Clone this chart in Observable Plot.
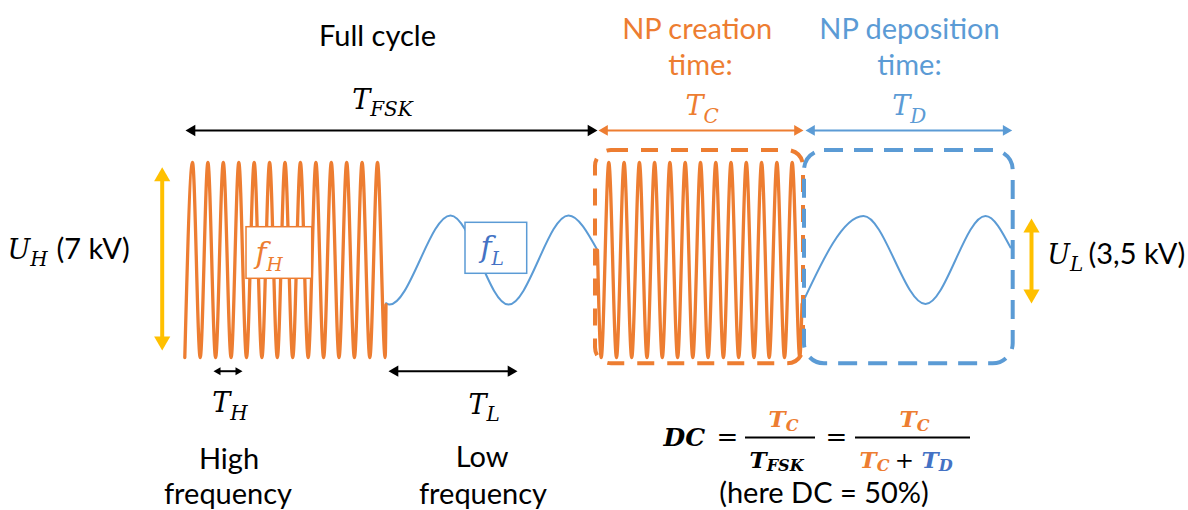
<!DOCTYPE html>
<html>
<head>
<meta charset="utf-8">
<script src="https://cdn.jsdelivr.net/npm/d3@7"></script>
<script src="https://cdn.jsdelivr.net/npm/@observablehq/plot@0.6"></script>
<style>
  html, body { margin: 0; padding: 0; background: #fff; }
  #chart svg { display: block; }
</style>
</head>
<body>
<div id="chart"></div>
<script>
// ---------------- DATA ----------------
// time in arbitrary units (0 = start of the FSK cycle), voltage in kV
// High-frequency burst #1 (extrema: troughs/peaks, then jump to low level)
const orangeA_t = [1.3, 9, 16.7, 24.4, 32.1, 39.8, 47.6, 55.3, 63, 70.7, 78.4, 86.1, 93.8, 101.5, 109.2, 116.9, 124.7, 132.4, 140.1, 147.8, 155.5, 163.2, 170.9, 178.6, 186.3, 194, 201.7, 202.5];
const orangeA_v = [-3.5, 3.5, -3.5, 3.5, -3.5, 3.5, -3.5, 3.5, -3.5, 3.5, -3.5, 3.5, -3.5, 3.5, -3.5, 3.5, -3.5, 3.5, -3.5, 3.5, -3.5, 3.5, -3.5, 3.5, -3.5, 3.5, -3.5, -1.6];
// Low-frequency part #1
const blueA_t = [202.5, 206, 267, 325, 385, 414];
const blueA_v = [-1.55, -1.6, 1.6, -1.6, 1.6, 0.35];
// High-frequency burst #2
const orangeB_t = [414, 417.7, 425.3, 433, 440.6, 448.2, 455.9, 463.5, 471.1, 478.8, 486.4, 494.1, 501.7, 509.3, 517, 524.6, 532.3, 539.9, 547.5, 555.2, 562.8, 570.5, 578.1, 585.7, 593.4, 601, 608.7, 616.3, 618.5];
const orangeB_v = [0.35, -3.5, 3.5, -3.5, 3.5, -3.5, 3.5, -3.5, 3.5, -3.5, 3.5, -3.5, 3.5, -3.5, 3.5, -3.5, 3.5, -3.5, 3.5, -3.5, 3.5, -3.5, 3.5, -3.5, 3.5, -3.5, 3.5, -3.5, -1.58];
// Low-frequency part #2
const blueB_t = [618.5, 680, 742, 802, 827];
const blueB_v = [-1.58, 1.58, -1.58, 1.58, 0.45];

// Time spans (full cycle, creation time, deposition time)
const spanNames = ["T_FSK", "T_C", "T_D"];
const spanStart = [2, 415, 622];
const spanEnd   = [414, 620, 828.7];
// Period markers
const periodNames = ["T_H", "T_L"];
const periodStart = [30, 205];
const periodEnd   = [59, 334];
// Amplitude markers (peak-to-peak voltages)
const ampNames  = ["U_H", "U_L"];
const ampLabels = ["(7 kV)", "(3,5 kV)"];
const ampTime   = [-21.3, 848];
const ampTop    = [3.33, 1.49];
const ampBottom = [-3.25, -1.56];

// Text labels
const titleLabels = ["Full cycle", "NP creation", "time:", "NP deposition", "time:"];
const freqNames = ["f_H", "f_L"];
const freqLabels = ["High", "frequency", "Low", "frequency"];
const noteLabel = "(here DC = 50%)";

// ---------------- HELPERS ----------------
const ORANGE = "#ED7D31", BLUE = "#5B9BD5", YELLOW = "#FFC000", DBLUE = "#4472C4";
const zip = (t, v) => t.map((d, i) => ({t: d, v: v[i]}));
const SANS = "Lato";
const SERIF = "DejaVu Serif";
const KV_PER_PX = 0.035897; // y scale: kV per pixel (x scale: 1 unit per pixel)

function txt(s, x, y, o = {}) {
  return Plot.text([s], {x, y, text: d => d, lineAnchor: "bottom", textAnchor: "middle",
    fontFamily: SANS, fontSize: 29, fill: "#000", ...o});
}
// math text: "A_B" becomes A with subscript B (post-processed into tspans)
function mth(s, x, y, o = {}) {
  return Plot.text([s], {x, y, text: d => d, lineAnchor: "bottom", textAnchor: "start",
    fontFamily: SERIF, fontStyle: "italic", fontSize: 27, fill: "#000", ...o});
}
function hArrow(x1, x2, y, color, sw, r) {
  const off = 1.555 * r; // px from triangle centre to tip (1 x-unit = 1 px)
  return [
    Plot.ruleY([y], {y: d => d, x1: x1 + off, x2: x2 - off, stroke: color, strokeWidth: sw}),
    Plot.dot([x1 + off], {x: d => d, y, symbol: "triangle", r, fill: color, stroke: "none", rotate: -90}),
    Plot.dot([x2 - off], {x: d => d, y, symbol: "triangle", r, fill: color, stroke: "none", rotate: 90})
  ];
}
function vArrow(x, y1, y2, color, sw, r) {
  const off = 1.555 * r * KV_PER_PX;
  return [
    Plot.ruleX([x], {x: d => d, y1: y2 + off, y2: y1 - off, stroke: color, strokeWidth: sw}),
    Plot.dot([x], {x: d => d, y: y1 - off, symbol: "triangle", r, fill: color, stroke: "none", rotate: 0}),
    Plot.dot([x], {x: d => d, y: y2 + off, symbol: "triangle", r, fill: color, stroke: "none", rotate: 180})
  ];
}

const topY = 4.649;   // level of the span arrows
const perY = -3.992;  // level of the period arrows
const BOLD = {fontWeight: "bold", fontSize: 23};
const denY = -7.45;   // denominators baseline
const numY = -6.002;  // numerators baseline

const chart = Plot.plot({
  width: 1188,
  height: 510,
  margin: 0,
  x: {domain: [-183, 1005], axis: null},
  y: {domain: [-8.992, 9.315], axis: null},
  style: {background: "#fff", overflow: "visible"},
  marks: [
    // waveform
    Plot.line(zip(blueA_t, blueA_v), {x: "t", y: "v", stroke: BLUE, strokeWidth: 2, curve: "monotone-x"}),
    Plot.line(zip(blueB_t, blueB_v), {x: "t", y: "v", stroke: BLUE, strokeWidth: 2, curve: "monotone-x"}),
    Plot.line(zip(orangeA_t, orangeA_v), {x: "t", y: "v", stroke: ORANGE, strokeWidth: 3.3, curve: "monotone-x"}),
    Plot.line(zip(orangeB_t, orangeB_v), {x: "t", y: "v", stroke: ORANGE, strokeWidth: 3.3, curve: "monotone-x"}),

    // dashed rounded boxes around creation / deposition windows
    Plot.rect([0], {x1: spanStart[1], x2: spanEnd[1], y1: -3.726, y2: 3.931, insetLeft: -3,
      rx: 16, ry: 16, fill: "none", stroke: ORANGE, strokeWidth: 4, strokeDasharray: "17,13"}),
    Plot.rect([0], {x1: spanStart[2], x2: spanEnd[2], y1: -3.726, y2: 3.931, insetLeft: -1, insetRight: -1,
      rx: 20, ry: 20, fill: "none", stroke: BLUE, strokeWidth: 4, strokeDasharray: "19,11"}),

    // f_H and f_L boxes
    Plot.rect([0], {x1: 63, x2: 128.7, y1: -0.675, y2: 1.177, fill: "#fff", stroke: ORANGE, strokeWidth: 1.5}),
    mth(freqNames[0], 72, -0.09, {fill: ORANGE, fontSize: 30}),
    Plot.rect([0], {x1: 282, x2: 343.7, y1: -0.495, y2: 1.335, fill: "#fff", stroke: BLUE, strokeWidth: 1.5}),
    mth(freqNames[1], 297, 0.1, {fill: DBLUE, fontSize: 30}),

    // span arrows
    ...hArrow(spanStart[0], spanEnd[0], topY, "#000", 2, 4.2),
    ...hArrow(spanStart[1], spanEnd[1], topY, ORANGE, 2, 4),
    ...hArrow(spanStart[2], spanEnd[2], topY, BLUE, 2, 4),

    // period arrows
    ...hArrow(periodStart[0], periodEnd[0], perY, "#000", 2, 3),
    ...hArrow(periodStart[1], periodEnd[1], perY, "#000", 2, 4.2),

    // amplitude arrows
    ...vArrow(ampTime[0], ampTop[0], ampBottom[0], YELLOW, 4, 6),
    ...vArrow(ampTime[1], ampTop[1], ampBottom[1], YELLOW, 4, 6),

    // titles
    txt(titleLabels[0], 194, 7.664),
    mth(spanNames[0], 168.7, 5.428),
    txt(titleLabels[1], 513.7, 7.941, {fill: ORANGE}),
    txt(titleLabels[2], 517, 6.623, {fill: ORANGE}),
    mth(spanNames[1], 502, 5.187, {fill: ORANGE}),
    txt(titleLabels[3], 726, 7.941, {fill: BLUE}),
    txt(titleLabels[4], 726, 6.623, {fill: BLUE}),
    mth(spanNames[2], 708.7, 5.187, {fill: BLUE}),

    // amplitude labels
    mth(ampNames[0], -176, 0.043),
    txt(ampLabels[0], -127, 0.043, {textAnchor: "start"}),
    mth(ampNames[1], 863.7, -0.136),
    txt(ampLabels[1], 905, -0.136, {textAnchor: "start"}),

    // period labels
    mth(periodNames[0], 28.7, -5.464),
    mth(periodNames[1], 285, -5.521),
    txt(freqLabels[0], 45.5, -7.5),
    txt(freqLabels[1], 44.5, -8.741),
    txt(freqLabels[2], 298.7, -7.438),
    txt(freqLabels[3], 299.5, -8.741),

    // duty-cycle formula
    mth("DC", 480, -6.659, {...BOLD, fontSize: 25}),
    mth("=", 544, -6.659, {fontStyle: "normal", fontSize: 26, textAnchor: "middle"}),
    Plot.ruleY([-6.372], {y: d => d, x1: 562, x2: 632, stroke: "#000", strokeWidth: 2}),
    mth(spanNames[1], 585, numY, {...BOLD, fill: ORANGE}),
    mth(spanNames[0], 566, denY, {...BOLD}),
    mth("=", 653, -6.659, {fontStyle: "normal", fontSize: 26, textAnchor: "middle"}),
    Plot.ruleY([-6.372], {y: d => d, x1: 672, x2: 787, stroke: "#000", strokeWidth: 2}),
    mth(spanNames[1], 716, numY, {...BOLD, fill: ORANGE}),
    mth(spanNames[1], 676, denY, {...BOLD, fill: ORANGE}),
    mth("+", 721, denY, {fontStyle: "normal", fontSize: 23, textAnchor: "middle"}),
    mth(spanNames[2], 738, denY, {...BOLD, fill: DBLUE}),
    txt(noteLabel, 640.5, -8.72)
  ]
});

// turn "A_B" math strings into main + subscript tspans
d3.select(chart).selectAll("text").each(function () {
  const s = this.textContent;
  const i = s.indexOf("_");
  if (i < 0) return;
  const g = this.parentNode;
  const attr = (k) => this.getAttribute(k) || g.getAttribute(k) || "";
  const size = parseFloat(attr("font-size")) || 27;
  const bold = attr("font-weight") === "bold";
  const [ratio, shift] = bold ? [0.7, 0.16] : size >= 30 ? [0.62, 0.27] : [0.74, 0.27];
  const sel = d3.select(this);
  sel.text(null);
  sel.append("tspan").text(s.slice(0, i));
  sel.append("tspan").attr("font-size", size * ratio).attr("dy", size * shift).text(s.slice(i + 1));
});
document.getElementById("chart").appendChild(chart);
</script>
</body>
</html>
